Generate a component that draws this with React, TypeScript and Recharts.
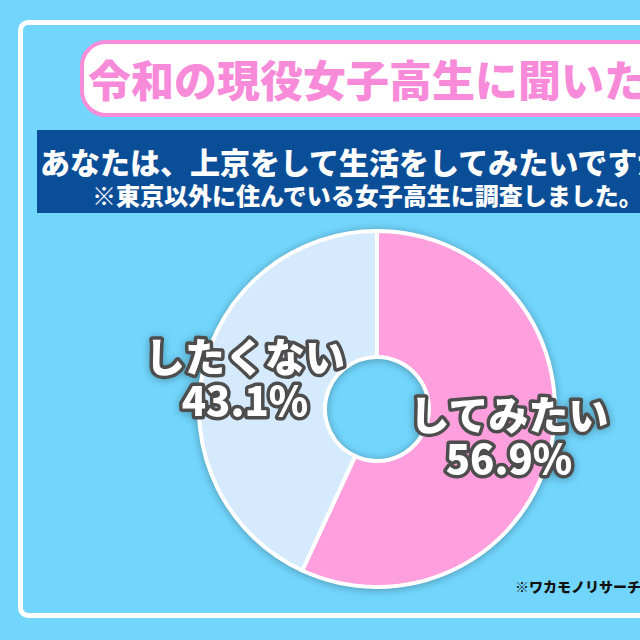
import { PieChart, Pie, Cell } from 'recharts';

// 上京したいか（東京以外在住の女子高生）
const answers = ['してみたい', 'したくない'];
const shares = [56.9, 43.1];
const sliceColors = ['#ff9fdd', '#d5eafd'];

const title = '令和の現役女子高生に聞いた！';
const question = 'あなたは、上京をして生活をしてみたいですか？';
const note = '※東京以外に住んでいる女子高生に調査しました。';
const source = '※ワカモノリサーチ調べ';

const pieData = answers.map((name, i) => ({ name, value: shares[i] }));

const FONT = '"Noto Sans CJK JP", "Noto Sans", sans-serif';
const RADIAN = Math.PI / 180;

const renderLabel = (props: any) => {
  const { cx, cy, midAngle, innerRadius, outerRadius, name, value } = props;
  const r = innerRadius + (outerRadius - innerRadius) * 0.66;
  const x = cx + r * Math.cos(-midAngle * RADIAN);
  const y = cy + r * Math.sin(-midAngle * RADIAN);
  return (
    <text
      x={x}
      y={y}
      textAnchor="middle"
      fill="#ffffff"
      stroke="#4d4d4d"
      strokeWidth={7}
      strokeLinejoin="round"
      paintOrder="stroke"
      fontFamily={FONT}
      fontWeight={900}
      fontSize={40}
    >
      <tspan x={x} dy={-8}>{name}</tspan>
      <tspan x={x} dy={44}>{`${value}%`}</tspan>
    </text>
  );
};

export default function App() {
  return (
    <div
      style={{
        position: 'fixed',
        left: 0,
        top: 0,
        width: 640,
        height: 640,
        overflow: 'hidden',
        background: '#72d6fc',
        fontFamily: FONT,
      }}
    >
      <div
        style={{
          position: 'absolute',
          left: 18,
          top: 20,
          width: 700,
          height: 588,
          border: '5px solid #ffffff',
          borderRadius: 10,
        }}
      />

      <div
        style={{
          position: 'absolute',
          left: 80,
          top: 40,
          width: 640,
          height: 69,
          background: '#ffffff',
          border: '4px solid #f78dd8',
          borderRadius: 26,
        }}
      />
      <div
        style={{
          position: 'absolute',
          left: 88,
          top: 57,
          fontSize: 43,
          lineHeight: 1,
          fontWeight: 900,
          color: '#f88bd9',
          whiteSpace: 'nowrap',
        }}
      >
        {title}
      </div>

      <div
        style={{
          position: 'absolute',
          left: 37,
          top: 130,
          width: 700,
          height: 83,
          background: '#0b4e98',
        }}
      />
      <div
        style={{
          position: 'absolute',
          left: 40,
          top: 146,
          fontSize: 30,
          lineHeight: 1,
          fontWeight: 900,
          color: '#ffffff',
          whiteSpace: 'nowrap',
        }}
      >
        {question}
      </div>
      <div
        style={{
          position: 'absolute',
          left: 92,
          top: 183,
          fontSize: 24,
          lineHeight: 1,
          fontWeight: 900,
          color: '#ffffff',
          whiteSpace: 'nowrap',
        }}
      >
        {note}
      </div>

      <div
        style={{
          position: 'absolute',
          left: 0,
          top: 0,
          filter: 'drop-shadow(0px 1px 4px rgba(0,0,0,0.3))',
        }}
      >
        <PieChart width={640} height={640}>
          <Pie
            data={pieData}
            dataKey="value"
            nameKey="name"
            cx={372}
            cy={404}
            innerRadius={52}
            outerRadius={178}
            startAngle={90}
            endAngle={-270}
            stroke="#ffffff"
            strokeWidth={4}
            label={renderLabel}
            labelLine={false}
            isAnimationActive={false}
          >
            {pieData.map((entry, idx) => (
              <Cell key={`cell-${idx}`} fill={sliceColors[idx]} />
            ))}
          </Pie>
        </PieChart>
      </div>

      <div
        style={{
          position: 'absolute',
          left: 515,
          top: 579,
          fontSize: 14,
          lineHeight: 1,
          fontWeight: 900,
          color: '#111111',
          whiteSpace: 'nowrap',
        }}
      >
        {source}
      </div>
    </div>
  );
}
